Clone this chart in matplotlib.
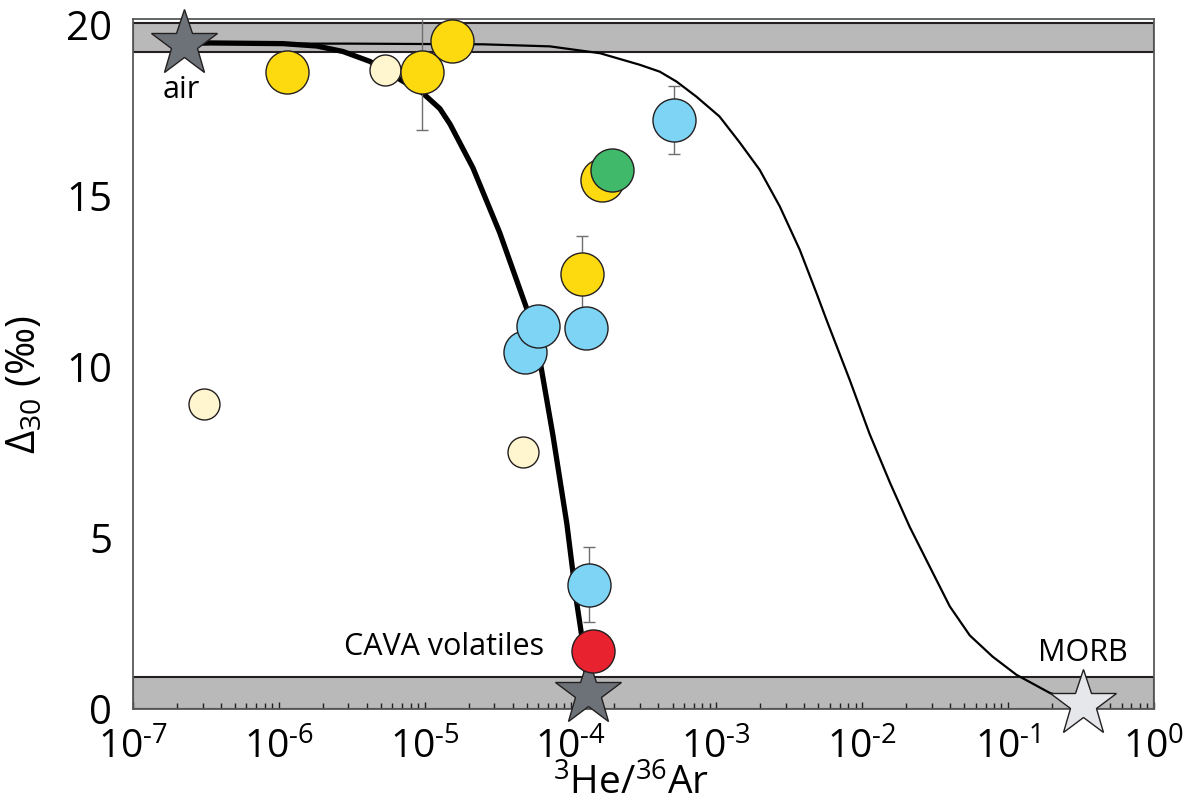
import numpy as np
import matplotlib
matplotlib.use('Agg')
import matplotlib.pyplot as plt
from matplotlib.ticker import LogLocator, NullFormatter, FixedLocator

plt.rcParams['font.family'] = ['Open Sans', 'DejaVu Sans']
plt.rcParams['mathtext.fontset'] = 'custom'
plt.rcParams['mathtext.rm'] = 'Open Sans'
plt.rcParams['mathtext.it'] = 'Open Sans:italic'
plt.rcParams['mathtext.bf'] = 'Open Sans:bold'

# end members
air_x, air_y = 2.24e-7, 19.45
cava_x, cava_y = 1.32e-4, 0.48
morb_x, morb_y = 0.326, 0.14

# mixing curves
thick_x = [2.24e-7, 3.37e-7, 1.07e-6, 1.82e-6, 2.75e-6, 4.21e-6, 9.72e-6, 1.27e-5,
           1.49e-5, 2.14e-5, 3.27e-5, 5.01e-5, 6.17e-5, 7.57e-5, 9.44e-5, 1.10e-4,
           1.21e-4, 1.32e-4]
thick_y = [19.45, 19.47, 19.45, 19.38, 19.22, 18.93, 18.0, 17.55,
           17.1, 15.82, 13.92, 11.70, 10.18, 8.0, 5.4, 3.13,
           1.96, 0.48]

thin_x = [2.24e-7, 3.07e-6, 2.51e-5, 7.21e-5, 1.59e-4, 2.99e-4, 4.09e-4, 5.33e-4,
          7.29e-4, 1.05e-3, 1.45e-3, 1.98e-3, 2.72e-3, 3.73e-3, 4.85e-3, 5.69e-3,
          8.20e-3, 1.12e-2, 1.55e-2, 2.11e-2, 2.90e-2, 3.98e-2, 5.46e-2, 7.83e-2,
          0.114, 0.193, 0.326]
thin_y = [19.45, 19.45, 19.43, 19.37, 19.17, 18.83, 18.63, 18.34,
          17.9, 17.32, 16.55, 15.76, 14.69, 13.42, 12.16, 11.37,
          9.62, 8.05, 6.61, 5.33, 4.16, 3.0, 2.15, 1.53,
          1.00, 0.47, 0.14]

# samples
yellow_x = [1.13e-6, 9.53e-6, 1.53e-5, 1.65e-4, 1.20e-4]
yellow_y = [18.63, 18.63, 19.54, 15.46, 12.72]
yellow_err = [0, 1.7, 0, 0, 1.12]

cyan_x = [5.08e-4, 4.86e-5, 6.0e-5, 1.27e-4, 1.33e-4]
cyan_y = [17.22, 10.44, 11.20, 11.14, 3.63]
cyan_err = [1.0, 0, 0, 0, 1.1]

green_x, green_y = [1.91e-4], [15.75]
red_x, red_y = [1.43e-4], [1.70]

cream_x = [5.33e-6, 3.07e-7, 4.69e-5]
cream_y = [18.68, 8.92, 7.52]

xticks = [1e-7, 1e-6, 1e-5, 1e-4, 1e-3, 1e-2, 1e-1, 1e0]
xtick_labels = ['$10^{\u20107}$', '$10^{\u20106}$', '$10^{\u20105}$', '$10^{\u20104}$',
                '$10^{\u20103}$', '$10^{\u20102}$', '$10^{\u20101}$', '$10^{0}$']
yticks = [0, 5, 10, 15, 20]

fig = plt.figure(figsize=(11.97, 8.08), dpi=100)
ax = fig.add_axes([133/1197, 99/808, 1021/1197, 690/808])
ax.set_xscale('log')
ax.set_xlim(1e-7, 1e0)
ax.set_ylim(0, 20.17)

# grey bands
ax.axhspan(19.2, 20.05, facecolor='#b9b9b9', edgecolor='#231f20', lw=1.5, zorder=1)
ax.axhspan(0, 0.95, facecolor='#b9b9b9', edgecolor='#231f20', lw=1.5, zorder=1)

ax.plot(thin_x, thin_y, color='black', lw=1.6, zorder=2, solid_joinstyle='round')
ax.plot(thick_x, thick_y, color='black', lw=3.8, zorder=2, solid_joinstyle='round')

ecol = '#6d6e71'
ax.errorbar(yellow_x, yellow_y, yerr=yellow_err, fmt='none', ecolor=ecol,
            elinewidth=1, capsize=4, capthick=1, zorder=3)
ax.errorbar(cyan_x, cyan_y, yerr=cyan_err, fmt='none', ecolor=ecol,
            elinewidth=1, capsize=4, capthick=1, zorder=3)

circ = dict(ls='none', marker='o', mec='#231f20', mew=1.0, zorder=5)
ax.plot(cream_x, cream_y, ms=22.3, mfc='#fff6cf', **circ)
ax.plot(yellow_x, yellow_y, ms=31, mfc='#fcda0f', **circ)
ax.plot(cyan_x, cyan_y, ms=31, mfc='#7dd4f5', **circ)
ax.plot(green_x, green_y, ms=31, mfc='#40b96a', **circ)

star = dict(ls='none', marker='*', ms=50, mec='#231f20', mew=1.0, clip_on=False)
ax.plot([air_x], [air_y], mfc='#6d7278', zorder=6, **star)
ax.plot([cava_x], [cava_y], mfc='#6d7278', zorder=6, **star)
ax.plot([morb_x], [morb_y], mfc='#e6e7ea', zorder=6, **star)
ax.plot(red_x, red_y, ms=31, mfc='#e8222e', **{**circ, 'zorder': 7})

ax.text(2.13e-7, 17.87, 'air', fontsize=22, ha='center', va='baseline')
ax.text(1.355e-5, 1.58, 'CAVA volatiles', fontsize=22, ha='center', va='baseline')
ax.text(0.324, 1.41, 'MORB', fontsize=22, ha='center', va='baseline')

ax.xaxis.set_major_locator(FixedLocator(xticks))
ax.set_xticklabels(xtick_labels)
ax.xaxis.set_minor_locator(LogLocator(base=10, subs=np.arange(2, 10), numticks=20))
ax.xaxis.set_minor_formatter(NullFormatter())
ax.set_yticks(yticks)
ax.tick_params(axis='x', which='major', direction='in', length=5, width=1,
               color='#231f20', labelsize=28, pad=14, top=False)
ax.tick_params(axis='x', which='minor', direction='in', length=4, width=1,
               color='#231f20', top=False)
ax.tick_params(axis='y', length=0, labelsize=29, pad=15)

for s in ax.spines.values():
    s.set_color('#58595b')
    s.set_linewidth(1.3)

ax.set_xlabel('$^{3}$He/$^{36}$Ar', fontsize=28)
ax.xaxis.set_label_coords(0.488, -0.081)
ax.xaxis.label.set_va('top')
ax.set_ylabel('Δ$_{30}$ (‰)', fontsize=29)
ax.yaxis.set_label_coords(-0.086, 0.47)

fig.savefig('out.png', dpi=100)
